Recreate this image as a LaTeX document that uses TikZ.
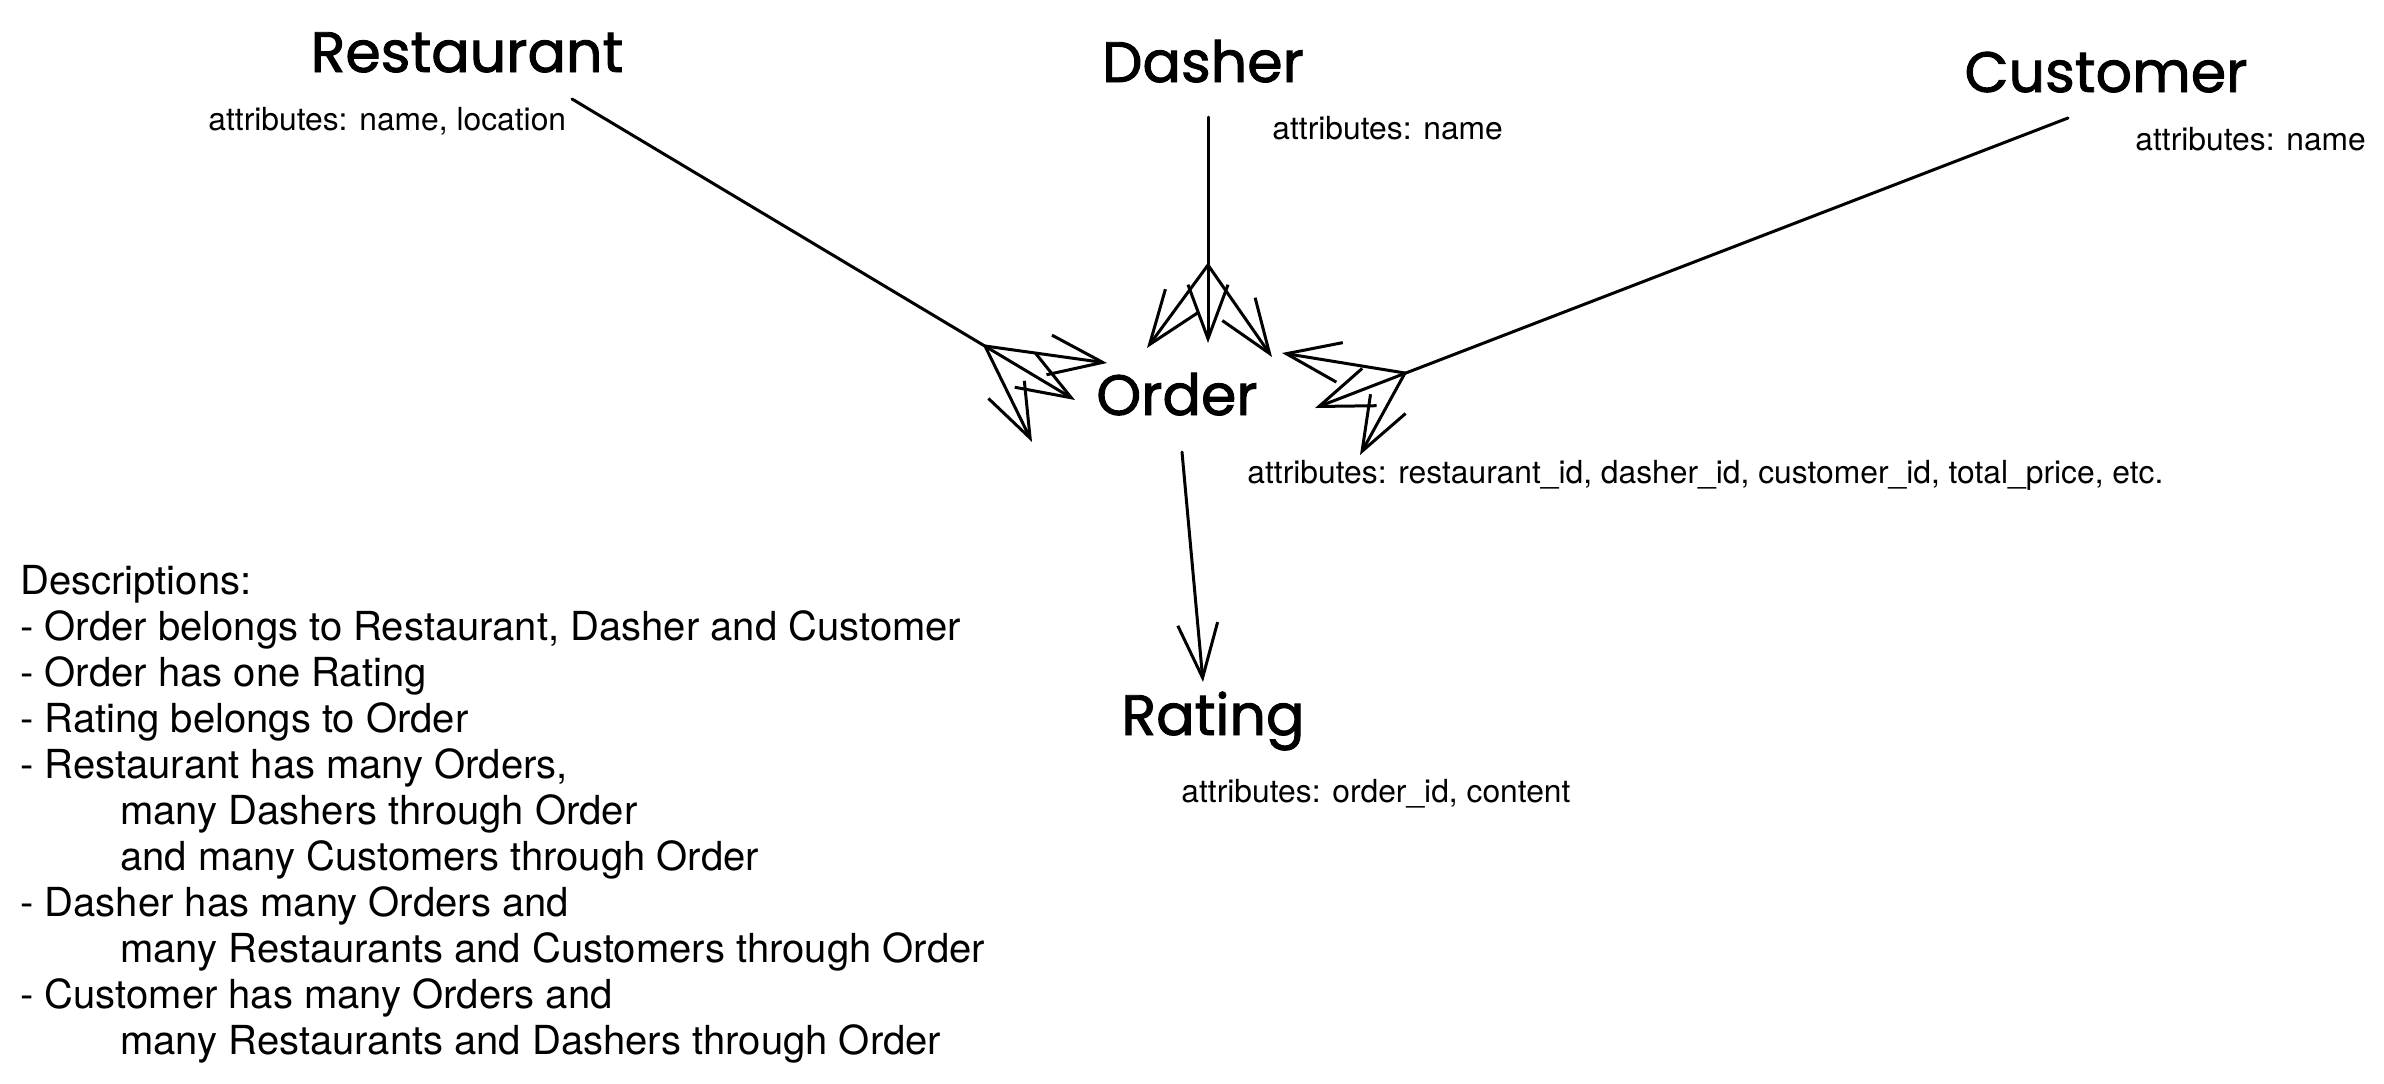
\documentclass[tikz,border=0pt]{standalone}
\usepackage{fontspec}
\setmainfont{TeX Gyre Heros}
\newfontfamily\sketchfont{Poppins}[FakeBold=1.6]
\usepackage{tikz}
\usetikzlibrary{arrows.meta}

\tikzset{
  entity/.style = {font=\sketchfont\fontsize{28.5}{30}\selectfont, inner sep=0pt, anchor=base},
  attr/.style = {font=\fontsize{15.9}{19}\selectfont, inner sep=0pt, anchor=base west},
  desc/.style = {font=\fontsize{20}{23}\selectfont, inner sep=0pt, align=left, anchor=north west},
  link/.style = {line width=1.5pt, line cap=round, line join=round,
    -{Straight Barb[length=27pt, width=20pt]}}
}

\begin{document}
\begin{tikzpicture}[x=0.5pt, y=-0.5pt]
  \useasboundingbox (0,0) rectangle (2384,1083);

  % entities
  \node[entity] (restaurant) at (467,72) {Restaurant};
  \node[entity] (dasher) at (1203,82) {Dasher};
  \node[entity] (customer) at (2106,92) {Customer};
  \node[entity] (order) at (1177,415) {Order};
  \node[entity] (rating) at (1213,735) {Rating};

  % attributes
  \node[attr] (restaurantattr) at (208,130) {attributes: name, location};
  \node[attr] (dasherattr) at (1272,139) {attributes: name};
  \node[attr] (customerattr) at (2135,150) {attributes: name};
  \node[attr] (orderattr) at (1247,483) {attributes: restaurant\_id, dasher\_id, customer\_id, total\_price, etc.};
  \node[attr] (ratingattr) at (1181,802) {attributes: order\_id, content};

  % restaurant -> order
  \coordinate (rstart) at (572,99);
  \coordinate (rfork) at (985,346);
  \coordinate (rtip) at (1075,400);
  \coordinate (rtipa) at (1107,363);
  \coordinate (rtipb) at (1032,442);
  \draw[link] (rstart) -- (rtip);
  \draw[link] (rfork) -- (rtipa);
  \draw[link] (rfork) -- (rtipb);

  % dasher -> order
  \coordinate (dstart) at (1208,117);
  \coordinate (dfork) at (1208,265);
  \coordinate (dtip) at (1208,343);
  \coordinate (dtipa) at (1147,348);
  \coordinate (dtipb) at (1272,357);
  \draw[link] (dstart) -- (dtip);
  \draw[link] (dfork) -- (dtipa);
  \draw[link] (dfork) -- (dtipb);

  % customer -> order
  \coordinate (cstart) at (2068,118);
  \coordinate (cfork) at (1405,373);
  \coordinate (ctip) at (1315,408);
  \coordinate (ctipa) at (1282,353);
  \coordinate (ctipb) at (1360,455);
  \draw[link] (cstart) -- (ctip);
  \draw[link] (cfork) -- (ctipa);
  \draw[link] (cfork) -- (ctipb);

  % order -> rating
  \coordinate (ostart) at (1182,452);
  \coordinate (otip) at (1203,682);
  \draw[link] (ostart) -- (otip);

  \node[desc] (notes) at (20,565) {Descriptions:\\
    - Order belongs to Restaurant, Dasher and Customer\\
    - Order has one Rating\\
    - Rating belongs to Order\\
    - Restaurant has many Orders,\\
    \hspace*{50pt}many Dashers through Order\\
    \hspace*{50pt}and many Customers through Order\\
    - Dasher has many Orders and\\
    \hspace*{50pt}many Restaurants and Customers through Order\\
    - Customer has many Orders and\\
    \hspace*{50pt}many Restaurants and Dashers through Order};
\end{tikzpicture}
\end{document}
